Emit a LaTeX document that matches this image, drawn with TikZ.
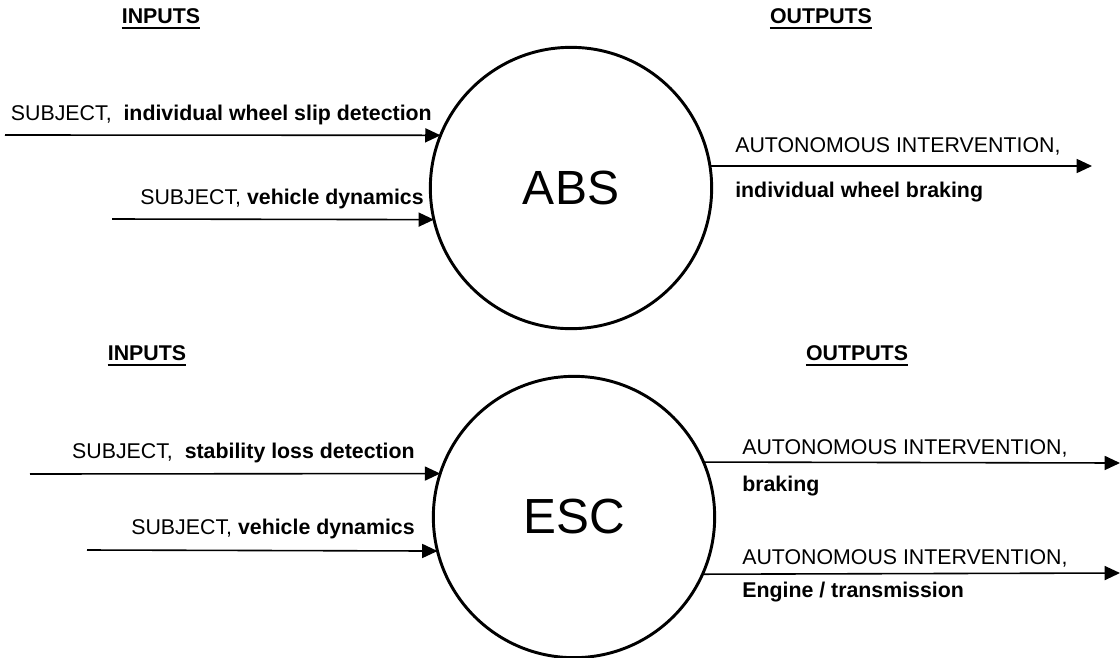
\documentclass[tikz,border=0pt]{standalone}
\usepackage{fontspec}
\setmainfont{Liberation Sans}
\usetikzlibrary{arrows.meta,positioning}

\begin{document}
\begin{tikzpicture}[x=0.75pt,y=-0.75pt,
    flow/.style={-{Triangle[length=11.5pt,width=10.5pt]},line width=1.2pt},
    block/.style={circle,draw,line width=2.2pt,minimum size=211pt,inner sep=0pt,outer sep=0pt},
    lbl/.style={font=\fontsize{16}{19}\selectfont,inner sep=0pt},
    head/.style={font=\fontsize{16}{19}\selectfont\bfseries,inner sep=0pt}]
    \useasboundingbox (0,0) rectangle (1120,657);

    % ABS, top half
    \node[head,anchor=base] (hin1) at (161,23) {INPUTS};
    \node[head,anchor=base] (hout1) at (821,23) {OUTPUTS};
    \draw[line width=1.5pt] ([yshift=-4pt]hin1.base west) -- ([yshift=-4pt]hin1.base east);
    \draw[line width=1.5pt] ([yshift=-4pt]hout1.base west) -- ([yshift=-4pt]hout1.base east);
    \node[block,font=\fontsize{36}{40}\selectfont] (abs) at (571,188) {ABS};

    % inputs
    \coordinate (a1) at (5,135);
    \coordinate (a2) at (112,219);
    \draw[flow] (a1) -- (abs.158);
    \draw[flow] (a2) -- (abs.193);
    \node[lbl,anchor=base east] (la1) at (432,120) {SUBJECT,\ \ \textbf{individual wheel slip detection}};
    \node[lbl,anchor=base east] (la2) at (424,204) {SUBJECT, \textbf{vehicle dynamics}};

    % output
    \coordinate (ao) at (1092,166);
    \draw[flow] (abs.9) -- (ao);
    \node[lbl,anchor=base west] (lao) at (735,152) {AUTONOMOUS INTERVENTION,};
    \node[lbl,anchor=base west] (lao2) at (735,197) {\textbf{individual wheel braking}};

    % ESC, bottom half
    \node[head,anchor=base] (hin2) at (147,360) {INPUTS};
    \node[head,anchor=base] (hout2) at (857,360) {OUTPUTS};
    \draw[line width=1.5pt] ([yshift=-4pt]hin2.base west) -- ([yshift=-4pt]hin2.base east);
    \draw[line width=1.5pt] ([yshift=-4pt]hout2.base west) -- ([yshift=-4pt]hout2.base east);
    \node[block,minimum size=211pt,font=\fontsize{37}{41}\selectfont] (esc) at (574,517) {ESC};

    % inputs
    \coordinate (e1) at (30,474);
    \coordinate (e2) at (87,550);
    \draw[flow] (e1) -- (esc.162);
    \draw[flow] (e2) -- (esc.194);
    \node[lbl,anchor=base east] (le1) at (415,458) {SUBJECT,\ \ \textbf{stability loss detection}};
    \node[lbl,anchor=base east] (le2) at (415,534) {SUBJECT, \textbf{vehicle dynamics}};

    % outputs
    \coordinate (eo1) at (1120,463);
    \coordinate (eo2) at (1120,573);
    \draw[flow] (esc.23) -- (eo1);
    \draw[flow] (esc.336) -- (eo2);
    \node[lbl,anchor=base west] (leo1) at (742,454) {AUTONOMOUS INTERVENTION,};
    \node[lbl,anchor=base west] (leo1b) at (742,491) {\textbf{braking}};
    \node[lbl,anchor=base west] (leo2) at (742,564) {AUTONOMOUS INTERVENTION,};
    \node[lbl,anchor=base west] (leo2b) at (742,597) {\textbf{Engine / transmission}};
\end{tikzpicture}
\end{document}
